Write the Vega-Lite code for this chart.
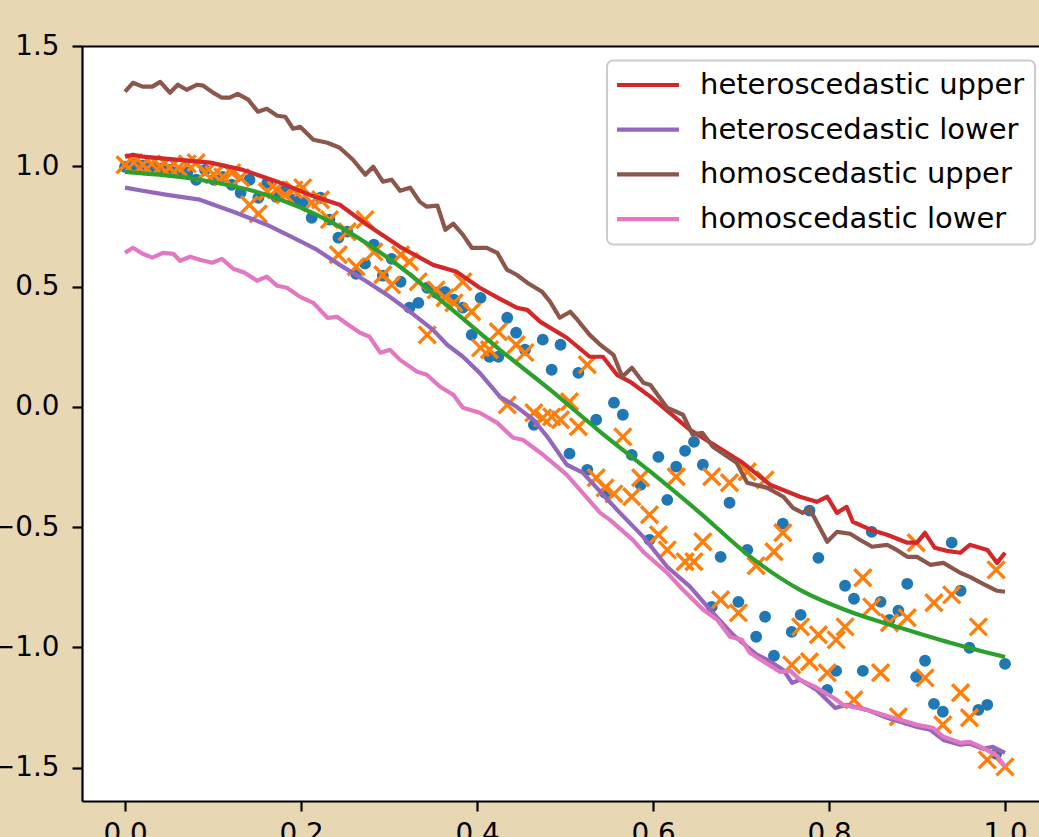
{
  "$schema": "https://vega.github.io/schema/vega-lite/v6.json",
  "autosize": {"type": "none"},
  "padding": {"left": 82, "top": 46, "right": 0, "bottom": 36},
  "width": 957,
  "height": 755,
  "background": "#e8d7b3",
  "config": {
    "font": "DejaVu Sans",
    "view": {"stroke": null, "fill": "white"},
    "axis": {
      "labelFont": "DejaVu Sans",
      "labelFontSize": 27.8,
      "labelColor": "black",
      "tickColor": "black",
      "tickWidth": 2.2,
      "tickSize": 10,
      "domainColor": "black",
      "domainWidth": 2.2,
      "grid": false,
      "labelFlush": false
    }
  },
  "datasets": {
    "pts": [
      {"x": 0, "b": 0.998, "o": 1.006},
      {"x": 0.0101, "b": 1.006, "o": 1.015},
      {"x": 0.0202, "b": 1.002, "o": 1.006},
      {"x": 0.0303, "b": 0.994, "o": 1.010},
      {"x": 0.0404, "b": 0.990, "o": 0.998},
      {"x": 0.0505, "b": 0.985, "o": 0.994},
      {"x": 0.0606, "b": 0.977, "o": 0.994},
      {"x": 0.0707, "b": 0.973, "o": 1.010},
      {"x": 0.0808, "b": 0.944, "o": 1.015},
      {"x": 0.0909, "b": 0.985, "o": 0.973},
      {"x": 0.101, "b": 0.944, "o": 0.965},
      {"x": 0.1111, "b": 0.956, "o": 0.956},
      {"x": 0.1212, "b": 0.923, "o": 0.973},
      {"x": 0.1313, "b": 0.890, "o": 0.952},
      {"x": 0.1414, "b": 0.944, "o": 0.840},
      {"x": 0.1515, "b": 0.869, "o": 0.802},
      {"x": 0.1616, "b": 0.931, "o": 0.894},
      {"x": 0.1717, "b": 0.873, "o": 0.902},
      {"x": 0.1818, "b": 0.902, "o": 0.881},
      {"x": 0.1919, "b": 0.861, "o": 0.902},
      {"x": 0.202, "b": 0.848, "o": 0.911},
      {"x": 0.2121, "b": 0.786, "o": 0.848},
      {"x": 0.2222, "b": 0.869, "o": 0.861},
      {"x": 0.2323, "b": 0.778, "o": 0.778},
      {"x": 0.2424, "b": 0.703, "o": 0.632},
      {"x": 0.2525, "b": 0.728, "o": 0.728},
      {"x": 0.2626, "b": 0.553, "o": 0.582},
      {"x": 0.2727, "b": 0.595, "o": 0.778},
      {"x": 0.2828, "b": 0.674, "o": 0.644},
      {"x": 0.2929, "b": 0.545, "o": 0.549},
      {"x": 0.303, "b": 0.615, "o": 0.507},
      {"x": 0.3131, "b": 0.520, "o": 0.632},
      {"x": 0.3232, "b": 0.412, "o": 0.603},
      {"x": 0.3333, "b": 0.432, "o": 0.520},
      {"x": 0.3434, "b": 0.495, "o": 0.299},
      {"x": 0.3535, "b": 0.474, "o": 0.486},
      {"x": 0.3636, "b": 0.478, "o": 0.453},
      {"x": 0.3737, "b": 0.445, "o": 0.432},
      {"x": 0.3838, "b": 0.412, "o": 0.520},
      {"x": 0.3939, "b": 0.299, "o": 0.395},
      {"x": 0.404, "b": 0.453, "o": 0.245},
      {"x": 0.4141, "b": 0.208, "o": 0.237},
      {"x": 0.4242, "b": 0.208, "o": 0.312},
      {"x": 0.4343, "b": 0.370, "o": 0.008},
      {"x": 0.4444, "b": 0.308, "o": 0.258},
      {"x": 0.4545, "b": 0.237, "o": 0.225},
      {"x": 0.4646, "b": -0.075, "o": -0.025},
      {"x": 0.4747, "b": 0.279, "o": -0.046},
      {"x": 0.4848, "b": 0.154, "o": -0.042},
      {"x": 0.4949, "b": 0.258, "o": -0.054},
      {"x": 0.5051, "b": -0.195, "o": 0.021},
      {"x": 0.5152, "b": 0.141, "o": -0.083},
      {"x": 0.5253, "b": -0.262, "o": 0.175},
      {"x": 0.5354, "b": -0.054, "o": -0.295},
      {"x": 0.5455, "b": -0.358, "o": -0.337},
      {"x": 0.5556, "b": 0.017, "o": -0.362},
      {"x": 0.5657, "b": -0.033, "o": -0.125},
      {"x": 0.5758, "b": -0.200, "o": -0.374},
      {"x": 0.5859, "b": -0.324, "o": -0.295},
      {"x": 0.596, "b": -0.553, "o": -0.449},
      {"x": 0.6061, "b": -0.208, "o": -0.532},
      {"x": 0.6162, "b": -0.387, "o": -0.595},
      {"x": 0.6263, "b": -0.249, "o": -0.291},
      {"x": 0.6364, "b": -0.183, "o": -0.644},
      {"x": 0.6465, "b": -0.146, "o": -0.644},
      {"x": 0.6566, "b": -0.241, "o": -0.561},
      {"x": 0.6667, "b": -0.832, "o": -0.291},
      {"x": 0.6768, "b": -0.624, "o": -0.802},
      {"x": 0.6869, "b": -0.399, "o": -0.316},
      {"x": 0.697, "b": -0.811, "o": -0.857},
      {"x": 0.7071, "b": -0.595, "o": -0.270},
      {"x": 0.7172, "b": -0.956, "o": -0.661},
      {"x": 0.7273, "b": -0.873, "o": -0.304},
      {"x": 0.7374, "b": -1.035, "o": -0.603},
      {"x": 0.7475, "b": -0.486, "o": -0.524},
      {"x": 0.7576, "b": -0.936, "o": -1.073},
      {"x": 0.7677, "b": -0.865, "o": -0.915},
      {"x": 0.7778, "b": -0.432, "o": -1.060},
      {"x": 0.7879, "b": -0.628, "o": -0.948},
      {"x": 0.798, "b": -1.177, "o": -1.106},
      {"x": 0.8081, "b": -1.098, "o": -0.969},
      {"x": 0.8182, "b": -0.744, "o": -0.915},
      {"x": 0.8283, "b": -0.798, "o": -1.218},
      {"x": 0.8384, "b": -1.098, "o": -0.711},
      {"x": 0.8485, "b": -0.520, "o": -0.832},
      {"x": 0.8586, "b": -0.811, "o": -1.106},
      {"x": 0.8687, "b": -0.886, "o": -0.898},
      {"x": 0.8788, "b": -0.848, "o": -1.289},
      {"x": 0.8889, "b": -0.736, "o": -0.877},
      {"x": 0.899, "b": -1.123, "o": -0.565},
      {"x": 0.9091, "b": -1.056, "o": -1.127},
      {"x": 0.9192, "b": -1.235, "o": -0.815},
      {"x": 0.9293, "b": -1.268, "o": -1.322},
      {"x": 0.9394, "b": -0.565, "o": -0.782},
      {"x": 0.9495, "b": -0.765, "o": -1.189},
      {"x": 0.9596, "b": -1.002, "o": -1.293},
      {"x": 0.9697, "b": -1.260, "o": -0.915},
      {"x": 0.9798, "b": -1.239, "o": -1.468},
      {"x": 0.9899, "b": -1.443, "o": -0.678},
      {"x": 1, "b": -1.069, "o": -1.497}
    ],
    "mean": [
      {"x": 0, "y": 0.977},
      {"x": 0.085, "y": 0.944},
      {"x": 0.161, "y": 0.881},
      {"x": 0.236, "y": 0.765},
      {"x": 0.3125, "y": 0.582},
      {"x": 0.369, "y": 0.412},
      {"x": 0.426, "y": 0.237},
      {"x": 0.483, "y": 0.071},
      {"x": 0.54, "y": -0.104},
      {"x": 0.597, "y": -0.27},
      {"x": 0.653, "y": -0.44},
      {"x": 0.71, "y": -0.622},
      {"x": 0.767, "y": -0.761},
      {"x": 0.824, "y": -0.852},
      {"x": 0.881, "y": -0.919},
      {"x": 0.9375, "y": -0.981},
      {"x": 1.0, "y": -1.04}
    ],
    "bands": [
      {"s": "heteroscedastic upper", "x": 0, "y": 1.040},
      {"s": "heteroscedastic upper", "x": 0.009, "y": 1.048},
      {"s": "heteroscedastic upper", "x": 0.020, "y": 1.040},
      {"s": "heteroscedastic upper", "x": 0.097, "y": 1.015},
      {"s": "heteroscedastic upper", "x": 0.134, "y": 0.985},
      {"s": "heteroscedastic upper", "x": 0.173, "y": 0.936},
      {"s": "heteroscedastic upper", "x": 0.210, "y": 0.881},
      {"s": "heteroscedastic upper", "x": 0.244, "y": 0.840},
      {"s": "heteroscedastic upper", "x": 0.275, "y": 0.757},
      {"s": "heteroscedastic upper", "x": 0.3125, "y": 0.665},
      {"s": "heteroscedastic upper", "x": 0.350, "y": 0.590},
      {"s": "heteroscedastic upper", "x": 0.377, "y": 0.561},
      {"s": "heteroscedastic upper", "x": 0.403, "y": 0.495},
      {"s": "heteroscedastic upper", "x": 0.426, "y": 0.449},
      {"s": "heteroscedastic upper", "x": 0.445, "y": 0.412},
      {"s": "heteroscedastic upper", "x": 0.457, "y": 0.403},
      {"s": "heteroscedastic upper", "x": 0.472, "y": 0.353},
      {"s": "heteroscedastic upper", "x": 0.502, "y": 0.287},
      {"s": "heteroscedastic upper", "x": 0.528, "y": 0.208},
      {"s": "heteroscedastic upper", "x": 0.543, "y": 0.208},
      {"s": "heteroscedastic upper", "x": 0.559, "y": 0.133},
      {"s": "heteroscedastic upper", "x": 0.574, "y": 0.104},
      {"s": "heteroscedastic upper", "x": 0.597, "y": 0.042},
      {"s": "heteroscedastic upper", "x": 0.642, "y": -0.096},
      {"s": "heteroscedastic upper", "x": 0.673, "y": -0.166},
      {"s": "heteroscedastic upper", "x": 0.702, "y": -0.233},
      {"s": "heteroscedastic upper", "x": 0.733, "y": -0.324},
      {"s": "heteroscedastic upper", "x": 0.767, "y": -0.374},
      {"s": "heteroscedastic upper", "x": 0.786, "y": -0.395},
      {"s": "heteroscedastic upper", "x": 0.798, "y": -0.374},
      {"s": "heteroscedastic upper", "x": 0.809, "y": -0.441},
      {"s": "heteroscedastic upper", "x": 0.820, "y": -0.416},
      {"s": "heteroscedastic upper", "x": 0.827, "y": -0.478},
      {"s": "heteroscedastic upper", "x": 0.847, "y": -0.511},
      {"s": "heteroscedastic upper", "x": 0.866, "y": -0.532},
      {"s": "heteroscedastic upper", "x": 0.889, "y": -0.565},
      {"s": "heteroscedastic upper", "x": 0.900, "y": -0.565},
      {"s": "heteroscedastic upper", "x": 0.909, "y": -0.524},
      {"s": "heteroscedastic upper", "x": 0.920, "y": -0.586},
      {"s": "heteroscedastic upper", "x": 0.934, "y": -0.599},
      {"s": "heteroscedastic upper", "x": 0.949, "y": -0.607},
      {"s": "heteroscedastic upper", "x": 0.960, "y": -0.574},
      {"s": "heteroscedastic upper", "x": 0.980, "y": -0.595},
      {"s": "heteroscedastic upper", "x": 0.991, "y": -0.649},
      {"s": "heteroscedastic upper", "x": 1.0, "y": -0.607},

      {"s": "heteroscedastic lower", "x": 0, "y": 0.911},
      {"s": "heteroscedastic lower", "x": 0.020, "y": 0.898},
      {"s": "heteroscedastic lower", "x": 0.048, "y": 0.881},
      {"s": "heteroscedastic lower", "x": 0.085, "y": 0.861},
      {"s": "heteroscedastic lower", "x": 0.123, "y": 0.811},
      {"s": "heteroscedastic lower", "x": 0.161, "y": 0.757},
      {"s": "heteroscedastic lower", "x": 0.191, "y": 0.703},
      {"s": "heteroscedastic lower", "x": 0.218, "y": 0.653},
      {"s": "heteroscedastic lower", "x": 0.244, "y": 0.590},
      {"s": "heteroscedastic lower", "x": 0.275, "y": 0.520},
      {"s": "heteroscedastic lower", "x": 0.301, "y": 0.457},
      {"s": "heteroscedastic lower", "x": 0.324, "y": 0.395},
      {"s": "heteroscedastic lower", "x": 0.350, "y": 0.320},
      {"s": "heteroscedastic lower", "x": 0.366, "y": 0.258},
      {"s": "heteroscedastic lower", "x": 0.384, "y": 0.208},
      {"s": "heteroscedastic lower", "x": 0.403, "y": 0.141},
      {"s": "heteroscedastic lower", "x": 0.426, "y": 0.042},
      {"s": "heteroscedastic lower", "x": 0.445, "y": 0.000},
      {"s": "heteroscedastic lower", "x": 0.464, "y": -0.054},
      {"s": "heteroscedastic lower", "x": 0.480, "y": -0.125},
      {"s": "heteroscedastic lower", "x": 0.502, "y": -0.241},
      {"s": "heteroscedastic lower", "x": 0.520, "y": -0.274},
      {"s": "heteroscedastic lower", "x": 0.540, "y": -0.353},
      {"s": "heteroscedastic lower", "x": 0.559, "y": -0.428},
      {"s": "heteroscedastic lower", "x": 0.589, "y": -0.541},
      {"s": "heteroscedastic lower", "x": 0.616, "y": -0.665},
      {"s": "heteroscedastic lower", "x": 0.642, "y": -0.748},
      {"s": "heteroscedastic lower", "x": 0.665, "y": -0.844},
      {"s": "heteroscedastic lower", "x": 0.691, "y": -0.948},
      {"s": "heteroscedastic lower", "x": 0.718, "y": -1.031},
      {"s": "heteroscedastic lower", "x": 0.730, "y": -1.052},
      {"s": "heteroscedastic lower", "x": 0.748, "y": -1.094},
      {"s": "heteroscedastic lower", "x": 0.758, "y": -1.148},
      {"s": "heteroscedastic lower", "x": 0.767, "y": -1.135},
      {"s": "heteroscedastic lower", "x": 0.786, "y": -1.177},
      {"s": "heteroscedastic lower", "x": 0.807, "y": -1.252},
      {"s": "heteroscedastic lower", "x": 0.820, "y": -1.239},
      {"s": "heteroscedastic lower", "x": 0.843, "y": -1.260},
      {"s": "heteroscedastic lower", "x": 0.866, "y": -1.293},
      {"s": "heteroscedastic lower", "x": 0.881, "y": -1.310},
      {"s": "heteroscedastic lower", "x": 0.900, "y": -1.331},
      {"s": "heteroscedastic lower", "x": 0.915, "y": -1.343},
      {"s": "heteroscedastic lower", "x": 0.930, "y": -1.385},
      {"s": "heteroscedastic lower", "x": 0.949, "y": -1.405},
      {"s": "heteroscedastic lower", "x": 0.960, "y": -1.401},
      {"s": "heteroscedastic lower", "x": 0.975, "y": -1.422},
      {"s": "heteroscedastic lower", "x": 0.986, "y": -1.414},
      {"s": "heteroscedastic lower", "x": 1.0, "y": -1.439},

      {"s": "homoscedastic upper", "x": 0, "y": 1.310},
      {"s": "homoscedastic upper", "x": 0.009, "y": 1.347},
      {"s": "homoscedastic upper", "x": 0.020, "y": 1.331},
      {"s": "homoscedastic upper", "x": 0.031, "y": 1.331},
      {"s": "homoscedastic upper", "x": 0.040, "y": 1.351},
      {"s": "homoscedastic upper", "x": 0.051, "y": 1.306},
      {"s": "homoscedastic upper", "x": 0.060, "y": 1.339},
      {"s": "homoscedastic upper", "x": 0.070, "y": 1.318},
      {"s": "homoscedastic upper", "x": 0.082, "y": 1.339},
      {"s": "homoscedastic upper", "x": 0.089, "y": 1.335},
      {"s": "homoscedastic upper", "x": 0.100, "y": 1.306},
      {"s": "homoscedastic upper", "x": 0.110, "y": 1.285},
      {"s": "homoscedastic upper", "x": 0.119, "y": 1.285},
      {"s": "homoscedastic upper", "x": 0.128, "y": 1.301},
      {"s": "homoscedastic upper", "x": 0.140, "y": 1.277},
      {"s": "homoscedastic upper", "x": 0.151, "y": 1.227},
      {"s": "homoscedastic upper", "x": 0.161, "y": 1.239},
      {"s": "homoscedastic upper", "x": 0.173, "y": 1.210},
      {"s": "homoscedastic upper", "x": 0.182, "y": 1.206},
      {"s": "homoscedastic upper", "x": 0.191, "y": 1.156},
      {"s": "homoscedastic upper", "x": 0.199, "y": 1.164},
      {"s": "homoscedastic upper", "x": 0.214, "y": 1.110},
      {"s": "homoscedastic upper", "x": 0.230, "y": 1.098},
      {"s": "homoscedastic upper", "x": 0.244, "y": 1.077},
      {"s": "homoscedastic upper", "x": 0.259, "y": 1.027},
      {"s": "homoscedastic upper", "x": 0.273, "y": 0.965},
      {"s": "homoscedastic upper", "x": 0.282, "y": 0.998},
      {"s": "homoscedastic upper", "x": 0.293, "y": 0.936},
      {"s": "homoscedastic upper", "x": 0.303, "y": 0.944},
      {"s": "homoscedastic upper", "x": 0.3125, "y": 0.898},
      {"s": "homoscedastic upper", "x": 0.324, "y": 0.911},
      {"s": "homoscedastic upper", "x": 0.335, "y": 0.852},
      {"s": "homoscedastic upper", "x": 0.343, "y": 0.832},
      {"s": "homoscedastic upper", "x": 0.355, "y": 0.836},
      {"s": "homoscedastic upper", "x": 0.364, "y": 0.736},
      {"s": "homoscedastic upper", "x": 0.373, "y": 0.761},
      {"s": "homoscedastic upper", "x": 0.384, "y": 0.715},
      {"s": "homoscedastic upper", "x": 0.394, "y": 0.661},
      {"s": "homoscedastic upper", "x": 0.411, "y": 0.661},
      {"s": "homoscedastic upper", "x": 0.423, "y": 0.640},
      {"s": "homoscedastic upper", "x": 0.434, "y": 0.570},
      {"s": "homoscedastic upper", "x": 0.445, "y": 0.549},
      {"s": "homoscedastic upper", "x": 0.457, "y": 0.516},
      {"s": "homoscedastic upper", "x": 0.474, "y": 0.478},
      {"s": "homoscedastic upper", "x": 0.483, "y": 0.437},
      {"s": "homoscedastic upper", "x": 0.494, "y": 0.370},
      {"s": "homoscedastic upper", "x": 0.506, "y": 0.395},
      {"s": "homoscedastic upper", "x": 0.514, "y": 0.362},
      {"s": "homoscedastic upper", "x": 0.528, "y": 0.299},
      {"s": "homoscedastic upper", "x": 0.540, "y": 0.258},
      {"s": "homoscedastic upper", "x": 0.555, "y": 0.216},
      {"s": "homoscedastic upper", "x": 0.565, "y": 0.125},
      {"s": "homoscedastic upper", "x": 0.576, "y": 0.162},
      {"s": "homoscedastic upper", "x": 0.589, "y": 0.100},
      {"s": "homoscedastic upper", "x": 0.597, "y": 0.091},
      {"s": "homoscedastic upper", "x": 0.616, "y": -0.004},
      {"s": "homoscedastic upper", "x": 0.634, "y": -0.033},
      {"s": "homoscedastic upper", "x": 0.645, "y": -0.116},
      {"s": "homoscedastic upper", "x": 0.656, "y": -0.108},
      {"s": "homoscedastic upper", "x": 0.668, "y": -0.166},
      {"s": "homoscedastic upper", "x": 0.695, "y": -0.233},
      {"s": "homoscedastic upper", "x": 0.707, "y": -0.316},
      {"s": "homoscedastic upper", "x": 0.730, "y": -0.337},
      {"s": "homoscedastic upper", "x": 0.748, "y": -0.374},
      {"s": "homoscedastic upper", "x": 0.759, "y": -0.420},
      {"s": "homoscedastic upper", "x": 0.770, "y": -0.441},
      {"s": "homoscedastic upper", "x": 0.778, "y": -0.424},
      {"s": "homoscedastic upper", "x": 0.798, "y": -0.561},
      {"s": "homoscedastic upper", "x": 0.809, "y": -0.520},
      {"s": "homoscedastic upper", "x": 0.824, "y": -0.528},
      {"s": "homoscedastic upper", "x": 0.835, "y": -0.553},
      {"s": "homoscedastic upper", "x": 0.849, "y": -0.582},
      {"s": "homoscedastic upper", "x": 0.866, "y": -0.574},
      {"s": "homoscedastic upper", "x": 0.877, "y": -0.595},
      {"s": "homoscedastic upper", "x": 0.889, "y": -0.624},
      {"s": "homoscedastic upper", "x": 0.900, "y": -0.624},
      {"s": "homoscedastic upper", "x": 0.915, "y": -0.657},
      {"s": "homoscedastic upper", "x": 0.930, "y": -0.649},
      {"s": "homoscedastic upper", "x": 0.949, "y": -0.690},
      {"s": "homoscedastic upper", "x": 0.960, "y": -0.707},
      {"s": "homoscedastic upper", "x": 0.975, "y": -0.736},
      {"s": "homoscedastic upper", "x": 0.991, "y": -0.765},
      {"s": "homoscedastic upper", "x": 1.0, "y": -0.769},

      {"s": "homoscedastic lower", "x": 0, "y": 0.640},
      {"s": "homoscedastic lower", "x": 0.009, "y": 0.661},
      {"s": "homoscedastic lower", "x": 0.020, "y": 0.636},
      {"s": "homoscedastic lower", "x": 0.031, "y": 0.620},
      {"s": "homoscedastic lower", "x": 0.043, "y": 0.640},
      {"s": "homoscedastic lower", "x": 0.055, "y": 0.636},
      {"s": "homoscedastic lower", "x": 0.0625, "y": 0.607},
      {"s": "homoscedastic lower", "x": 0.074, "y": 0.624},
      {"s": "homoscedastic lower", "x": 0.085, "y": 0.611},
      {"s": "homoscedastic lower", "x": 0.099, "y": 0.599},
      {"s": "homoscedastic lower", "x": 0.110, "y": 0.615},
      {"s": "homoscedastic lower", "x": 0.123, "y": 0.574},
      {"s": "homoscedastic lower", "x": 0.136, "y": 0.557},
      {"s": "homoscedastic lower", "x": 0.150, "y": 0.524},
      {"s": "homoscedastic lower", "x": 0.161, "y": 0.541},
      {"s": "homoscedastic lower", "x": 0.173, "y": 0.503},
      {"s": "homoscedastic lower", "x": 0.184, "y": 0.495},
      {"s": "homoscedastic lower", "x": 0.199, "y": 0.457},
      {"s": "homoscedastic lower", "x": 0.214, "y": 0.432},
      {"s": "homoscedastic lower", "x": 0.230, "y": 0.370},
      {"s": "homoscedastic lower", "x": 0.241, "y": 0.374},
      {"s": "homoscedastic lower", "x": 0.252, "y": 0.345},
      {"s": "homoscedastic lower", "x": 0.267, "y": 0.308},
      {"s": "homoscedastic lower", "x": 0.278, "y": 0.291},
      {"s": "homoscedastic lower", "x": 0.290, "y": 0.225},
      {"s": "homoscedastic lower", "x": 0.301, "y": 0.237},
      {"s": "homoscedastic lower", "x": 0.3125, "y": 0.195},
      {"s": "homoscedastic lower", "x": 0.332, "y": 0.146},
      {"s": "homoscedastic lower", "x": 0.343, "y": 0.133},
      {"s": "homoscedastic lower", "x": 0.358, "y": 0.083},
      {"s": "homoscedastic lower", "x": 0.373, "y": 0.050},
      {"s": "homoscedastic lower", "x": 0.384, "y": -0.004},
      {"s": "homoscedastic lower", "x": 0.403, "y": -0.025},
      {"s": "homoscedastic lower", "x": 0.423, "y": -0.067},
      {"s": "homoscedastic lower", "x": 0.441, "y": -0.129},
      {"s": "homoscedastic lower", "x": 0.452, "y": -0.137},
      {"s": "homoscedastic lower", "x": 0.472, "y": -0.191},
      {"s": "homoscedastic lower", "x": 0.486, "y": -0.233},
      {"s": "homoscedastic lower", "x": 0.502, "y": -0.283},
      {"s": "homoscedastic lower", "x": 0.520, "y": -0.358},
      {"s": "homoscedastic lower", "x": 0.540, "y": -0.441},
      {"s": "homoscedastic lower", "x": 0.551, "y": -0.470},
      {"s": "homoscedastic lower", "x": 0.577, "y": -0.553},
      {"s": "homoscedastic lower", "x": 0.589, "y": -0.603},
      {"s": "homoscedastic lower", "x": 0.616, "y": -0.690},
      {"s": "homoscedastic lower", "x": 0.634, "y": -0.761},
      {"s": "homoscedastic lower", "x": 0.657, "y": -0.844},
      {"s": "homoscedastic lower", "x": 0.673, "y": -0.886},
      {"s": "homoscedastic lower", "x": 0.6875, "y": -0.956},
      {"s": "homoscedastic lower", "x": 0.701, "y": -0.969},
      {"s": "homoscedastic lower", "x": 0.710, "y": -1.023},
      {"s": "homoscedastic lower", "x": 0.730, "y": -1.069},
      {"s": "homoscedastic lower", "x": 0.744, "y": -1.102},
      {"s": "homoscedastic lower", "x": 0.756, "y": -1.098},
      {"s": "homoscedastic lower", "x": 0.767, "y": -1.135},
      {"s": "homoscedastic lower", "x": 0.786, "y": -1.168},
      {"s": "homoscedastic lower", "x": 0.805, "y": -1.210},
      {"s": "homoscedastic lower", "x": 0.816, "y": -1.239},
      {"s": "homoscedastic lower", "x": 0.843, "y": -1.260},
      {"s": "homoscedastic lower", "x": 0.869, "y": -1.289},
      {"s": "homoscedastic lower", "x": 0.900, "y": -1.322},
      {"s": "homoscedastic lower", "x": 0.918, "y": -1.335},
      {"s": "homoscedastic lower", "x": 0.930, "y": -1.372},
      {"s": "homoscedastic lower", "x": 0.949, "y": -1.397},
      {"s": "homoscedastic lower", "x": 0.960, "y": -1.393},
      {"s": "homoscedastic lower", "x": 0.975, "y": -1.418},
      {"s": "homoscedastic lower", "x": 0.991, "y": -1.451},
      {"s": "homoscedastic lower", "x": 1.0, "y": -1.497}
    ]
  },
  "layer": [
    {
      "data": {"name": "pts"},
      "mark": {"type": "point", "shape": "circle", "filled": true, "size": 140, "color": "#1f77b4", "opacity": 1},
      "encoding": {
        "x": {
          "field": "x", "type": "quantitative", "title": null,
          "scale": {"domain": [-0.0489, 1.0386], "nice": false, "zero": false},
          "axis": {"orient": "bottom", "values": [0, 0.2, 0.4, 0.6, 0.8, 1.0], "format": ".1f", "labelPadding": 9}
        },
        "y": {
          "field": "b", "type": "quantitative", "title": null,
          "scale": {"domain": [-1.639, 1.5], "nice": false, "zero": false},
          "axis": {"values": [-1.5, -1, -0.5, 0, 0.5, 1, 1.5], "format": ".1f", "labelPadding": 13}
        }
      }
    },
    {
      "data": {"name": "pts"},
      "mark": {"type": "point", "shape": "M-1,-1L1,1M-1,1L1,-1", "filled": false, "size": 289, "color": "#ff7f0e", "strokeWidth": 3.4, "opacity": 1},
      "encoding": {
        "x": {"field": "x", "type": "quantitative", "title": null, "axis": null},
        "y": {"field": "o", "type": "quantitative", "title": null}
      }
    },
    {
      "data": {"name": "mean"},
      "mark": {"type": "line", "color": "#2ca02c", "strokeWidth": 4.2, "interpolate": "monotone"},
      "encoding": {
        "x": {"field": "x", "type": "quantitative", "title": null,
              "axis": {"orient": "top", "labels": false, "ticks": false, "domain": true}},
        "y": {"field": "y", "type": "quantitative", "title": null}
      }
    },
    {
      "data": {"name": "bands"},
      "mark": {"type": "line", "strokeWidth": 4.2, "strokeJoin": "round"},
      "encoding": {
        "x": {"field": "x", "type": "quantitative", "title": null, "axis": null},
        "y": {"field": "y", "type": "quantitative", "title": null},
        "color": {
          "field": "s", "type": "nominal",
          "scale": {
            "domain": ["heteroscedastic upper", "heteroscedastic lower", "homoscedastic upper", "homoscedastic lower"],
            "range": ["#d62728", "#9467bd", "#8c564b", "#e377c2"]
          },
          "legend": {
            "orient": "none", "direction": "vertical", "legendX": 525, "legendY": 14.5,
            "title": null,
            "symbolType": "M-4,0L4,0", "symbolSize": 240, "symbolStrokeWidth": 4.2, "symbolOffset": 16.5,
            "labelOffset": 37.5, "rowPadding": 14.7, "padding": 10,
            "labelFont": "DejaVu Sans", "labelFontSize": 29, "labelColor": "black", "labelLimit": 600,
            "strokeColor": "#cccccc", "fillColor": "white", "cornerRadius": 6,
            "encode": {"legend": {"update": {"strokeWidth": {"value": 2}}}}
          }
        }
      }
    }
  ],
  "resolve": {"axis": {"x": "independent"}}
}
